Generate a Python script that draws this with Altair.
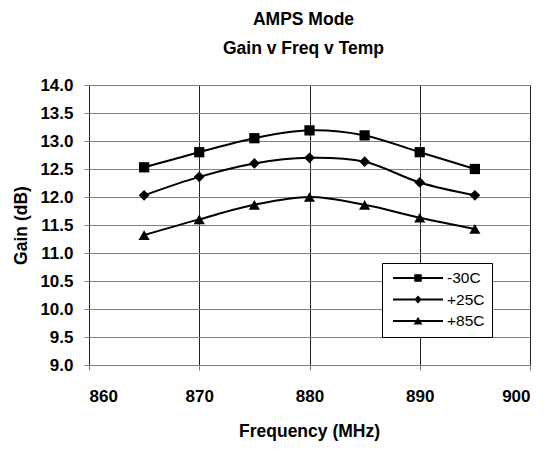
import altair as alt
import pandas as pd

freqs = [865, 870, 875, 880, 885, 890, 895]
gain_m30 = [12.53, 12.80, 13.05, 13.19, 13.10, 12.80, 12.50]
gain_p25 = [12.03, 12.36, 12.60, 12.70, 12.63, 12.26, 12.03]
gain_p85 = [11.32, 11.60, 11.86, 12.00, 11.86, 11.63, 11.43]
series = ["-30C", "+25C", "+85C"]
x_ticks = [860, 870, 880, 890, 900]
y_ticks = [9.0, 9.5, 10.0, 10.5, 11.0, 11.5, 12.0, 12.5, 13.0, 13.5, 14.0]

rows = []
for name, vals in zip(series, [gain_m30, gain_p25, gain_p85]):
    for f, g in zip(freqs, vals):
        rows.append({"Freq": f, "Gain": g, "Temp": name, "TempL": name})
df = pd.DataFrame(rows)

FONT = "Liberation Sans, Arial, sans-serif"

# legend symbols: line with marker in the middle (custom paths)
line_part = "M-0.862,-0.035H0.862V0.035H-0.862Z"
leg_square = line_part + "M-0.13,-0.13H0.13V0.13H-0.13Z"
leg_diamond = line_part + "M0,-0.14L0.13,0L0,0.14L-0.13,0Z"
leg_tri = line_part + "M0,-0.15L0.155,0.12L-0.155,0.12Z"

x_enc = alt.X(
    "Freq:Q",
    scale=alt.Scale(domain=[860, 900], nice=False, zero=False),
    axis=alt.Axis(
        values=x_ticks,
        format="d",
        title="Frequency (MHz)",
        grid=True,
        gridColor="#222222",
        gridWidth=1,
        domain=False,
        tickColor="#808080",
        tickSize=5,
        labelPadding=18,
        labelOverlap=False,
        labelFont=FONT,
        labelFontSize=17,
        labelFontWeight="bold",
        labelColor="black",
        titleFont=FONT,
        titleFontSize=17.5,
        titleFontWeight="bold",
        titleColor="black",
        titleX=220,
        titleY=66,
        titleAlign="center",
        titleBaseline="middle",
    ),
)
y_enc = alt.Y(
    "Gain:Q",
    scale=alt.Scale(domain=[9.0, 14.0], nice=False, zero=False),
    axis=alt.Axis(
        values=y_ticks,
        format=".1f",
        title="Gain (dB)",
        grid=True,
        gridColor="#808080",
        gridWidth=1.2,
        domain=False,
        tickColor="#808080",
        tickSize=5,
        labelPadding=11,
        labelOverlap=False,
        labelFont=FONT,
        labelFontSize=17,
        labelFontWeight="bold",
        labelColor="black",
        titleFont=FONT,
        titleFontSize=17.5,
        titleFontWeight="bold",
        titleColor="black",
        titleAngle=270,
        titleX=-68,
        titleY=140,
        titleAlign="center",
        titleBaseline="middle",
    ),
)

base = alt.Chart(df).encode(x=x_enc, y=y_enc)

lines = base.mark_line(
    interpolate="catmull-rom", color="black", strokeWidth=2
).encode(detail="Temp:N")

points = base.mark_point(
    filled=True, color="black", opacity=1
).encode(
    shape=alt.Shape(
        "Temp:N",
        scale=alt.Scale(domain=series, range=["square", "diamond", "triangle-up"]),
        legend=None,
    ),
    size=alt.Size(
        "Temp:N",
        scale=alt.Scale(domain=series, range=[105, 125, 145]),
        legend=None,
    ),
)

legend_pts = base.mark_point(
    filled=True, color="black", opacity=0, size=3364
).encode(
    shape=alt.Shape(
        "TempL:N",
        scale=alt.Scale(domain=series, range=[leg_square, leg_diamond, leg_tri]),
        legend=alt.Legend(
            title=None,
            orient="none",
            legendX=293,
            legendY=178,
            padding=7,
            fillColor="white",
            strokeColor="black",
            symbolOpacity=1,
            symbolFillColor="black",
            symbolStrokeColor="black",
            symbolStrokeWidth=0,
            symbolSize=3364,
            clipHeight=16,
            rowPadding=4.5,
            labelOffset=0,
            labelFont=FONT,
            labelFontSize=15.5,
            labelColor="black",
            labelFontWeight="normal",
        ),
    ),
)

chart = (
    alt.layer(lines, points, legend_pts)
    .resolve_scale(shape="independent")
    .properties(
        width=441,
        height=280,
        autosize=alt.AutoSizeParams(type="none"),
        padding={"left": 81, "top": 77, "right": 18, "bottom": 78},
        title=alt.Title(
            ["AMPS Mode", "Gain v Freq v Temp"],
            font=FONT,
            fontSize=17.5,
            fontWeight="bold",
            color="black",
            lineHeight=29,
            anchor="middle",
            dx=-6,
            offset=19,
        ),
    )
    .configure_view(stroke="black", strokeWidth=2)
    .configure(background="white")
)

chart.save("out.html", embed_options={"renderer": "svg", "actions": False})
